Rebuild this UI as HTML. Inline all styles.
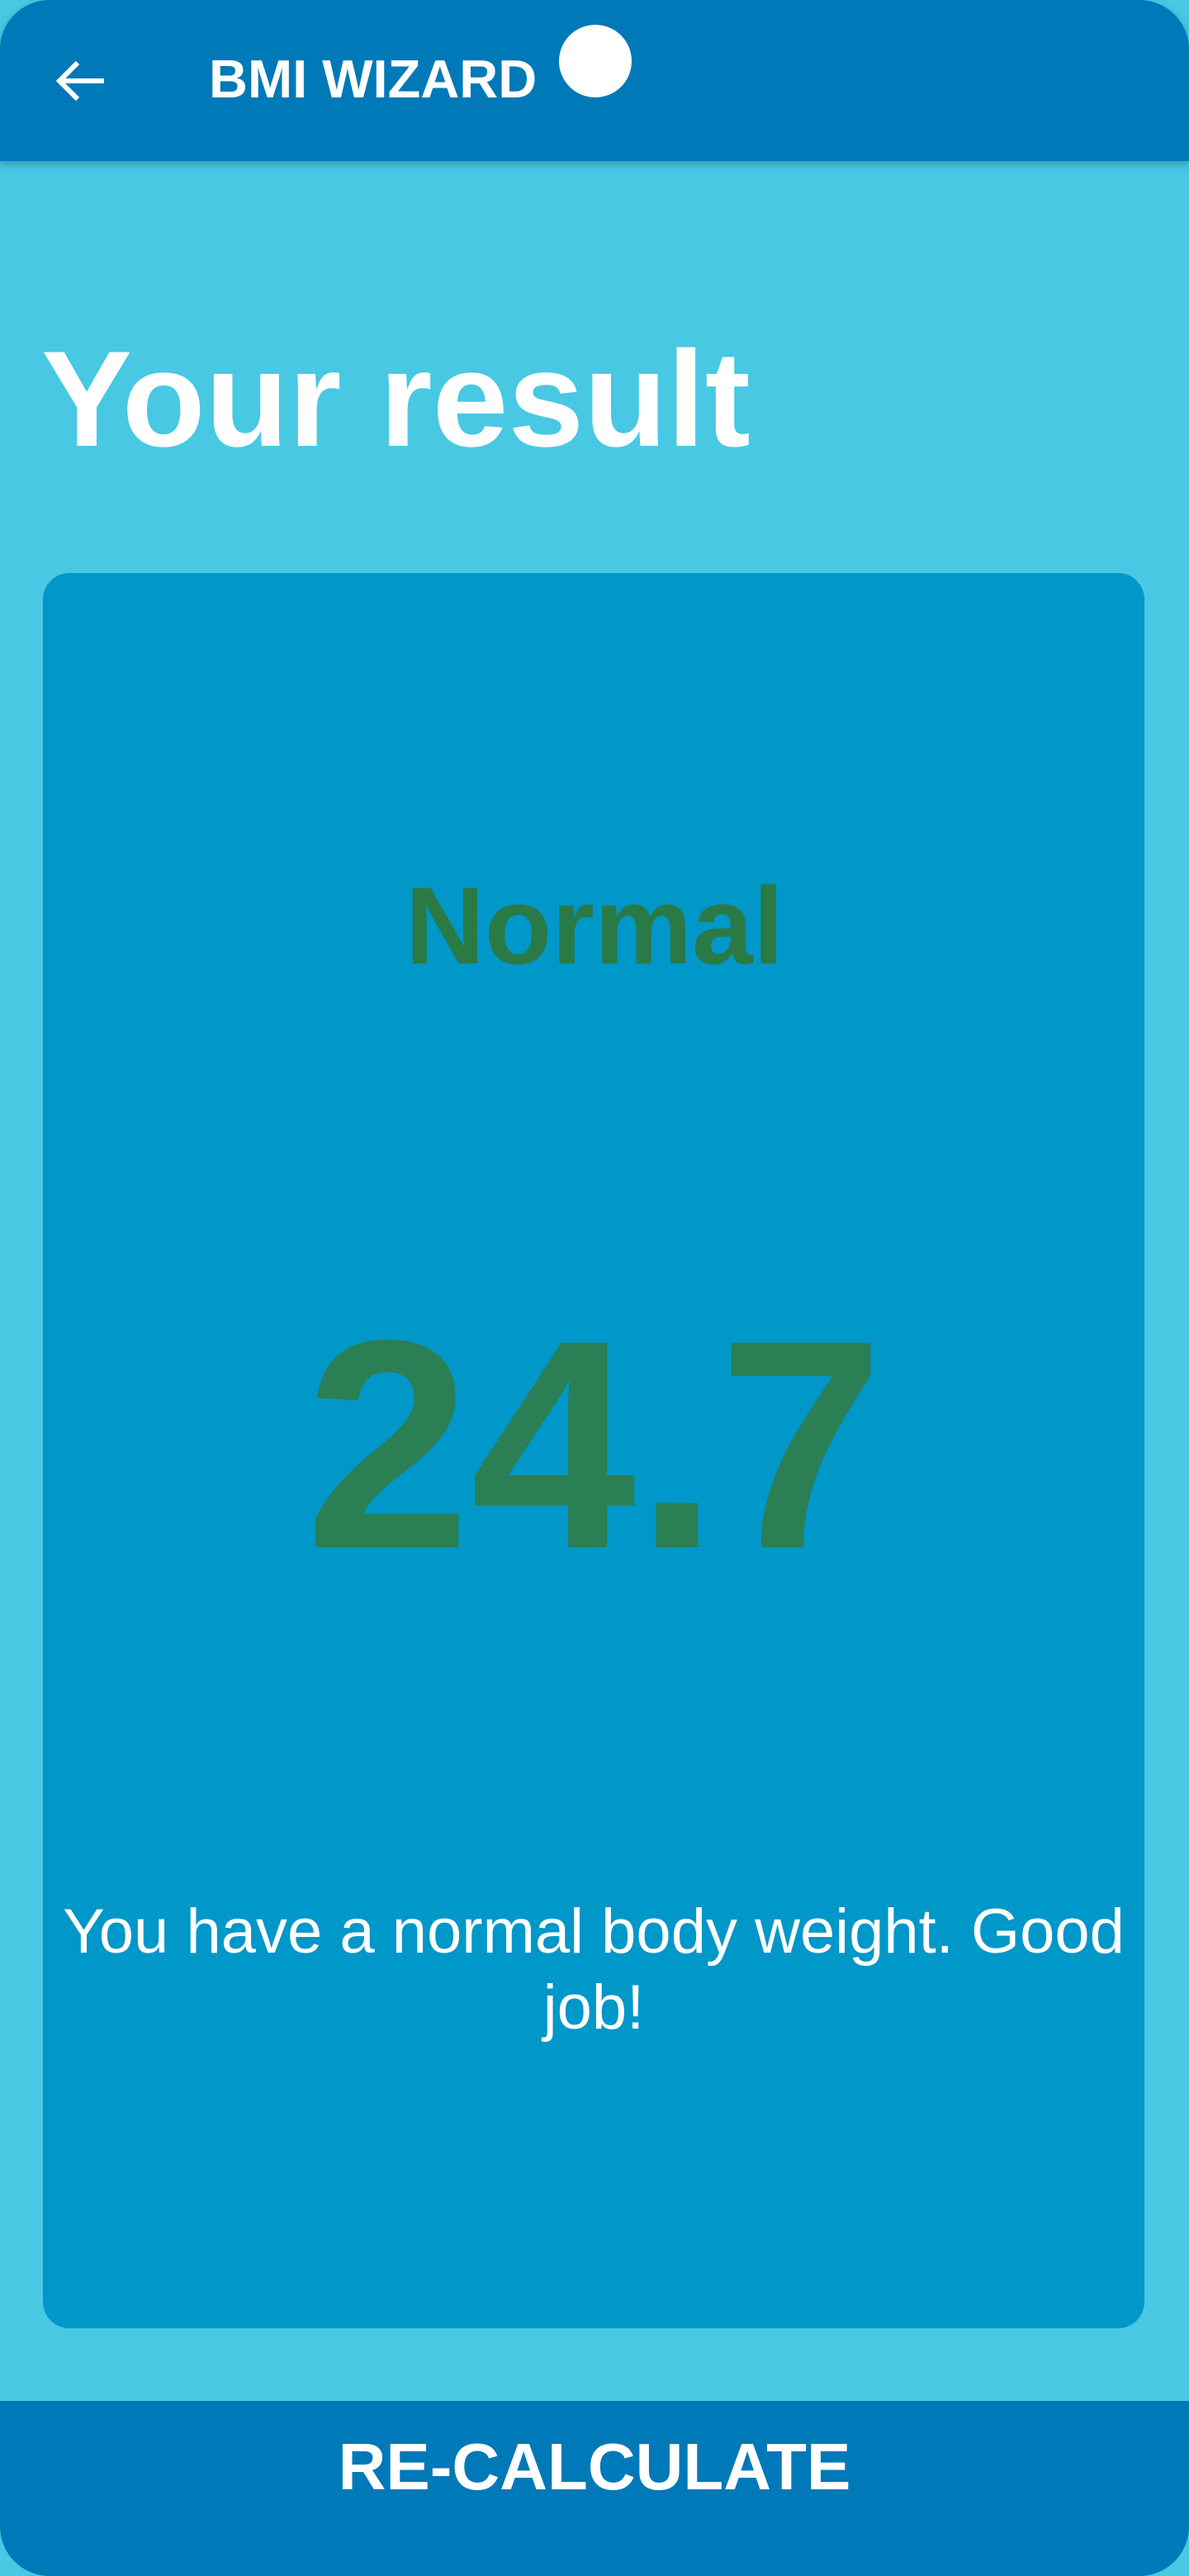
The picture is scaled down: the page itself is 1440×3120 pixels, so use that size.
<!DOCTYPE html>
<html><head><meta charset="utf-8"><style>
html,body{margin:0;padding:0;}
body{width:1440px;height:3120px;position:relative;background:#48C8E3;font-family:"Liberation Sans",sans-serif;overflow:hidden;}
.appbar{position:absolute;left:0;top:0;width:1440px;height:195px;background:#0079B8;border-radius:60px 60px 0 0;box-shadow:0 4px 10px rgba(0,0,0,0.25);}
.title{position:absolute;left:253px;top:60px;font-size:65px;font-weight:bold;color:#fff;line-height:72px;}
.dot{position:absolute;left:677px;top:30px;width:88px;height:88px;border-radius:50%;background:#fff;}
.h1{position:absolute;left:50px;top:383px;font-size:165px;font-weight:bold;color:#fff;line-height:200px;}
.card{position:absolute;left:52px;top:694px;width:1334px;height:2126px;background:#0097C9;border-radius:32px;}
.status{position:absolute;left:0;width:100%;top:1042px;text-align:center;font-size:133px;font-weight:bold;color:#2A7A46;line-height:160px;}
.bmi{position:absolute;left:0;width:100%;top:1570px;text-align:center;font-size:360px;font-weight:bold;color:#2A7F55;line-height:360px;}
.msg{position:absolute;left:52px;width:1334px;top:2294px;text-align:center;font-size:76px;color:#fff;line-height:92px;}
.btn{position:absolute;left:0;top:2908px;width:1440px;height:212px;background:#0079B8;border-radius:0 0 60px 60px;}
.btn span{position:absolute;left:0;width:100%;top:30px;text-align:center;font-size:80px;font-weight:bold;color:#fff;line-height:100px;}
</style></head><body>
<div class="appbar">
<svg style="position:absolute;left:64px;top:70px" width="68" height="56" viewBox="0 0 68 56"><path d="M62 28H8M30 6L8 28l22 22" stroke="#fff" stroke-width="6" fill="none"/></svg>
<div class="title">BMI WIZARD</div>
<div class="dot"></div>
</div>
<div class="h1">Your result</div>
<div class="card"></div>
<div class="status">Normal</div>
<div class="bmi">24.7</div>
<div class="msg">You have a normal body weight. Good<br>job!</div>
<div class="btn"><span>RE-CALCULATE</span></div>
</body></html>
